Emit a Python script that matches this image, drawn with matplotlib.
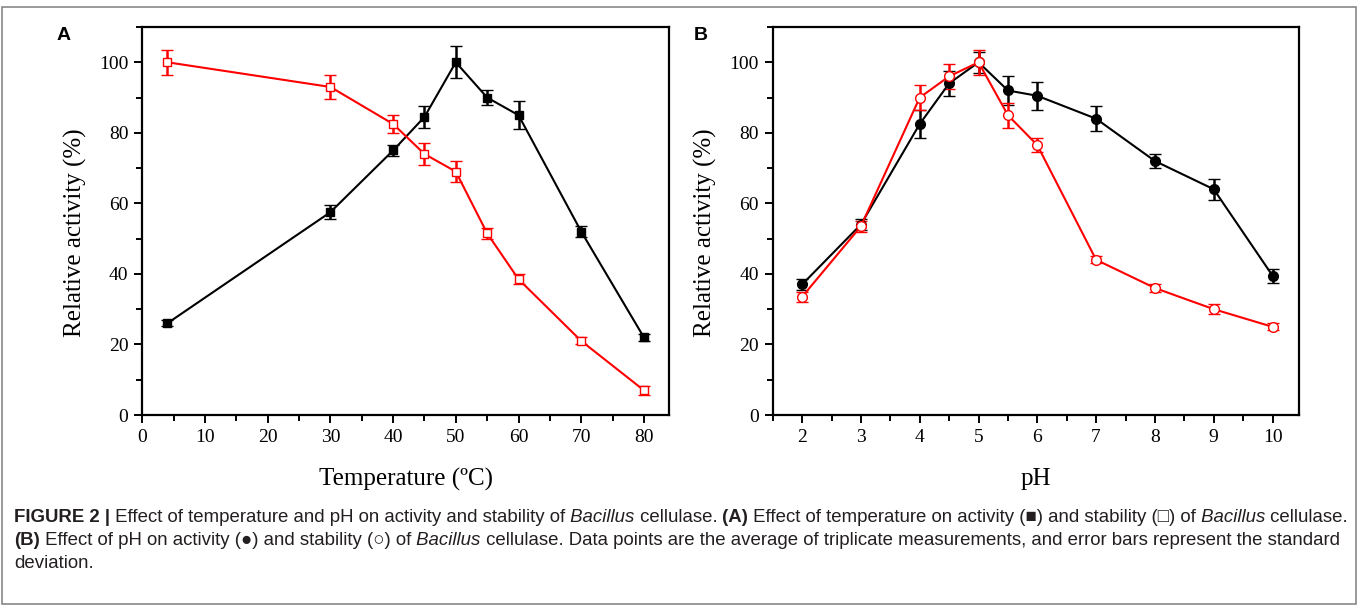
import matplotlib
matplotlib.use("Agg")
import matplotlib.pyplot as plt
from matplotlib.ticker import MultipleLocator
from matplotlib.patches import Rectangle
from matplotlib import font_manager

# ---- data ----
temp = [4, 30, 40, 45, 50, 55, 60, 70, 80]
temp_activity = [26, 57.5, 75, 84.5, 100, 90, 85, 52, 22]
temp_activity_err = [0.8, 2, 1.5, 3, 4.5, 2, 4, 1.5, 1]
temp_stability = [100, 93, 82.5, 74, 69, 51.5, 38.5, 21, 7]
temp_stability_err = [3.5, 3.5, 2.5, 3, 3, 1.5, 1.5, 1, 1.2]

ph = [2, 3, 4, 4.5, 5, 5.5, 6, 7, 8, 9, 10]
ph_activity = [37, 54, 82.5, 94, 100, 92, 90.5, 84, 72, 64, 39.5]
ph_activity_err = [1.5, 1.5, 4, 3.5, 3, 4, 4, 3.5, 2, 3, 2]
ph_stability = [33.5, 53.5, 90, 96, 100, 85, 76.5, 44, 36, 30, 25]
ph_stability_err = [1.5, 1.5, 3.5, 3.5, 3.5, 3.5, 2, 1, 1, 1.5, 1]

temp_ticks = [0, 10, 20, 30, 40, 50, 60, 70, 80]
ph_ticks = [2, 3, 4, 5, 6, 7, 8, 9, 10]
y_ticks = [0, 20, 40, 60, 80, 100]

W, H = 1360, 608
fig = plt.figure(figsize=(W / 100, H / 100), dpi=100)

serif = ["Liberation Serif", "DejaVu Serif"]
RED = "#ff0000"


def px_axes(l, t, r, b):
    return fig.add_axes([l / W, 1 - b / H, (r - l) / W, (b - t) / H])


def style(ax):
    for s in ax.spines.values():
        s.set_linewidth(1.6)
    ax.tick_params(which="both", direction="out", top=False, right=False,
                   width=1.4, labelsize=14, pad=4)
    ax.tick_params(which="major", length=6)
    ax.tick_params(which="minor", length=4)
    for lab in ax.get_xticklabels() + ax.get_yticklabels():
        lab.set_fontfamily(serif)
    ax.set_ylim(0, 110)
    ax.set_yticks(y_ticks)
    ax.yaxis.set_minor_locator(MultipleLocator(10))


def series(ax, x, y, e, color, marker, face, ms):
    ax.errorbar(x, y, yerr=e, color=color, ecolor=color, elinewidth=1.8,
                capsize=4, capthick=1.8, marker=marker, markersize=ms,
                markerfacecolor=face, markeredgecolor=color,
                markeredgewidth=1.0, linewidth=1.5)


axA = px_axes(142.3, 27, 669, 415)
series(axA, temp, temp_activity, temp_activity_err, "black", "s", "black", 6)
series(axA, temp, temp_stability, temp_stability_err, RED, "s", "white", 6)
axA.set_xlim(0, 84)
axA.set_xticks(temp_ticks)
axA.xaxis.set_minor_locator(MultipleLocator(5))
style(axA)

axB = px_axes(772.7, 27, 1299, 415)
series(axB, ph, ph_activity, ph_activity_err, "black", "o", "black", 7)
series(axB, ph, ph_stability, ph_stability_err, RED, "o", "white", 7)
axB.set_xlim(1.5, 10.45)
axB.set_xticks(ph_ticks)
axB.xaxis.set_minor_locator(MultipleLocator(0.5))
style(axB)

# axis labels
LAB_FS = 18
fig.text(75 / W, 1 - 233 / H, "Relative activity (%)", rotation=90,
         ha="center", va="center", fontsize=LAB_FS, family=serif)
fig.text(705 / W, 1 - 233 / H, "Relative activity (%)", rotation=90,
         ha="center", va="center", fontsize=LAB_FS, family=serif)
fig.text(406 / W, 1 - 479 / H, "Temperature (\u00baC)", ha="center",
         va="center", fontsize=LAB_FS, family=serif)
fig.text(1036 / W, 1 - 479 / H, "pH", ha="center", va="center",
         fontsize=LAB_FS, family=serif)

# panel letters
fig.text(64 / W, 1 - 35 / H, "A", ha="center", va="center", fontsize=14,
         fontweight="bold", family=["Liberation Sans", "DejaVu Sans"])
fig.text(701 / W, 1 - 35 / H, "B", ha="center", va="center", fontsize=14,
         fontweight="bold", family=["Liberation Sans", "DejaVu Sans"])

# caption with mixed styles (pieces laid out along one baseline)
installed = {f.name for f in font_manager.fontManager.ttflist}
if "Liberation Sans Narrow" in installed:
    cap_fam = ["Liberation Sans Narrow", "DejaVu Sans"]
else:
    cap_fam = ["Liberation Sans", "DejaVu Sans"]
renderer = fig.canvas.get_renderer()

line1 = [
    ("FIGURE 2 |", "b"),
    (" Effect of temperature and pH on activity and stability of", "n"),
    (" Bacillus", "i"),
    (" cellulase.", "n"),
    (" (A)", "b"),
    (" Effect of temperature on activity (\u25a0) and stability (\u25a1) of", "n"),
    (" Bacillus", "i"),
    (" cellulase.", "n"),
]
line2 = [
    ("(B)", "b"),
    (" Effect of pH on activity (\u25cf) and stability (\u25cb) of", "n"),
    (" Bacillus", "i"),
    (" cellulase. Data points are the average of triplicate measurements,"
     " and error bars represent the standard", "n"),
]
line3 = [("deviation.", "n")]


def rich_line(x_px, y_base_px, pieces, fs):
    x = x_px
    arts = []
    for txt, st in pieces:
        kw = dict(fontsize=fs, family=cap_fam, color="#231f20")
        if st == "b":
            kw["fontweight"] = "bold"
        elif st == "i":
            kw["fontstyle"] = "italic"
        t = fig.text(x / W, 1 - y_base_px / H, txt, ha="left",
                     va="baseline", **kw)
        arts.append(t)
        x += t.get_window_extent(renderer=renderer).width
    return arts, x - x_px


# size the caption so that line 1 spans the same width as in the figure
arts, w = rich_line(14, 522, line1, 11.0)
for a in arts:
    a.remove()
CAP_FS = 11.0 * 1336.0 / w
rich_line(14, 522, line1, CAP_FS)
rich_line(14, 545, line2, CAP_FS)
rich_line(14, 568, line3, CAP_FS)

# outer frame
fig.add_artist(Rectangle((1.5 / W, 1 - 604 / H), (1355.5 - 1.5) / W,
                         (604 - 6.5) / H, transform=fig.transFigure,
                         fill=False, edgecolor="#888888", linewidth=1.2))

fig.savefig("out.png", dpi=100)
